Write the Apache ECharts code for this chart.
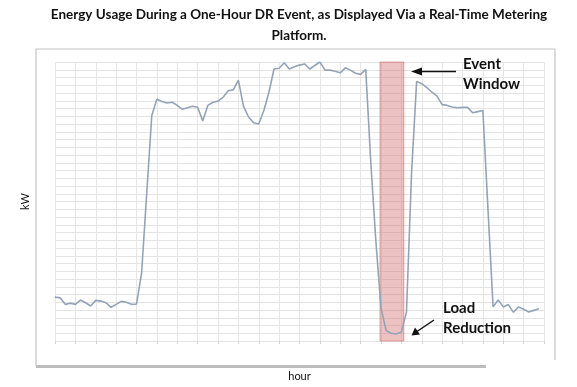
<!DOCTYPE html>
<html>
<head>
<meta charset="utf-8">
<script src="https://cdn.jsdelivr.net/npm/echarts@6/dist/echarts.min.js"></script>
<style>html,body{margin:0;padding:0;background:#fff;}#c{width:577px;height:387px;}</style>
</head>
<body>
<div id="c"></div>
<script>
// Readings every 15 minutes (kW, arbitrary units)
var readingsPerHour = 4;
var kw = [
  5.66, 5.57, 4.73, 4.86, 4.73, 5.28, 4.94, 4.52, 5.24, 5.15, 4.94, 4.35, 4.73, 5.11, 4.99, 4.73, 4.77, 8.75,
  19.0, 29.1, 31.2,
  30.9, 30.7, 30.8, 30.4, 29.9, 30.1, 30.3, 30.15, 28.4, 30.4, 30.8, 30.95, 31.45, 32.3, 32.4, 33.65, 30.3, 28.9, 28.15, 28.0, 29.75, 32.1, 35.1, 35.2,
  35.9, 35.1, 35.4, 35.6, 35.75, 35.1, 35.55, 36.0, 34.95, 34.95, 34.8, 34.6, 35.25, 34.95, 34.55, 34.4, 35.05,
  23.0, 12.8, 4.26, 1.34, 1.0, 0.9, 1.15, 3.75, 21.7, 33.5,
  33.2, 32.7, 32.1, 31.6, 30.5, 30.4, 30.2, 30.1, 30.15, 30.15, 29.45, 29.6, 29.75,
  17.0, 4.4, 5.3, 4.4, 4.7, 3.7, 4.4, 4.1, 3.75, 3.95, 4.15
];
var eventWindow = [15.95, 17.12];
var hourRange = [0, 24];
var kwRange = [0, 36];
var titleLines = ['Energy Usage During a One-Hour DR Event, as Displayed Via a Real-Time Metering', 'Platform.'];

var seriesData = kw.map(function (v, i) { return [i / readingsPerHour, v]; });

var chart = echarts.init(document.getElementById('c'), null, {renderer: 'canvas'});
var F = 'Lato, "Open Sans", sans-serif';
chart.setOption({
  animation: false,
  backgroundColor: '#fff',
  graphic: [
    {type: 'text', x: 299, y: 15, style: {text: titleLines[0], font: 'bold 13.5px ' + F, fill: '#111', align: 'center', verticalAlign: 'middle'}, z: 10},
    {type: 'text', x: 299, y: 36, style: {text: titleLines[1], font: 'bold 13.5px ' + F, fill: '#111', align: 'center', verticalAlign: 'middle'}, z: 10},
    {type: 'polyline', shape: {points: [[36, 366], [36, 49], [555, 49], [555, 360]]}, style: {stroke: '#c4c4c4', lineWidth: 1.2, fill: null}, z: 0},
    {type: 'line', shape: {x1: 36, y1: 366.5, x2: 486, y2: 366.5}, style: {stroke: '#bdbdbd', lineWidth: 3}, z: 0},
    {type: 'text', left: 463, top: 57, style: {text: 'Event', font: 'bold 15px ' + F, fill: '#111'}, z: 10},
    {type: 'text', left: 463, top: 77, style: {text: 'Window', font: 'bold 15px ' + F, fill: '#111'}, z: 10},
    {type: 'line', shape: {x1: 456, y1: 71.5, x2: 418, y2: 71.5}, style: {stroke: '#111', lineWidth: 1.5}, z: 10},
    {type: 'polygon', shape: {points: [[411, 71.5], [422, 67.5], [422, 75.5]]}, style: {fill: '#111'}, z: 10},
    {type: 'text', left: 443, top: 301, style: {text: 'Load', font: 'bold 15px ' + F, fill: '#111'}, z: 10},
    {type: 'text', left: 443, top: 321, style: {text: 'Reduction', font: 'bold 15px ' + F, fill: '#111'}, z: 10},
    {type: 'line', shape: {x1: 434, y1: 320, x2: 417, y2: 331.5}, style: {stroke: '#111', lineWidth: 1.5}, z: 10},
    {type: 'polygon', shape: {points: [[411.5, 335.5], [415, 327.5], [420, 334.5]]}, style: {fill: '#111'}, z: 10}
  ],
  grid: {left: 55, right: 33, top: 62, bottom: 41.5},
  xAxis: {
    type: 'value', min: hourRange[0], max: hourRange[1], interval: 1,
    name: 'hour', nameLocation: 'middle', nameGap: 30,
    nameTextStyle: {fontFamily: F, fontSize: 11, color: '#111'},
    axisLine: {show: false},
    axisTick: {show: true, length: 3, lineStyle: {color: '#d4d4d4'}},
    axisLabel: {show: false},
    splitLine: {show: true, lineStyle: {color: '#e6e6e6', width: 1}}
  },
  yAxis: {
    type: 'value', min: kwRange[0], max: kwRange[1], interval: 1,
    name: 'kW', nameLocation: 'middle', nameGap: 24,
    nameTextStyle: {fontFamily: F, fontSize: 11, color: '#111'},
    axisLine: {show: false}, axisTick: {show: false}, axisLabel: {show: false},
    splitLine: {show: true, lineStyle: {color: '#e4e4e4', width: 1}}
  },
  series: [{
    type: 'line',
    data: seriesData,
    showSymbol: false,
    lineStyle: {color: '#95a3b8', width: 1.6},
    markArea: {
      silent: true,
      itemStyle: {color: 'rgba(212,110,110,0.42)', borderColor: 'rgba(200,90,90,0.5)', borderWidth: 1},
      data: [[{xAxis: eventWindow[0]}, {xAxis: eventWindow[1]}]]
    }
  }]
});
</script>
</body>
</html>
